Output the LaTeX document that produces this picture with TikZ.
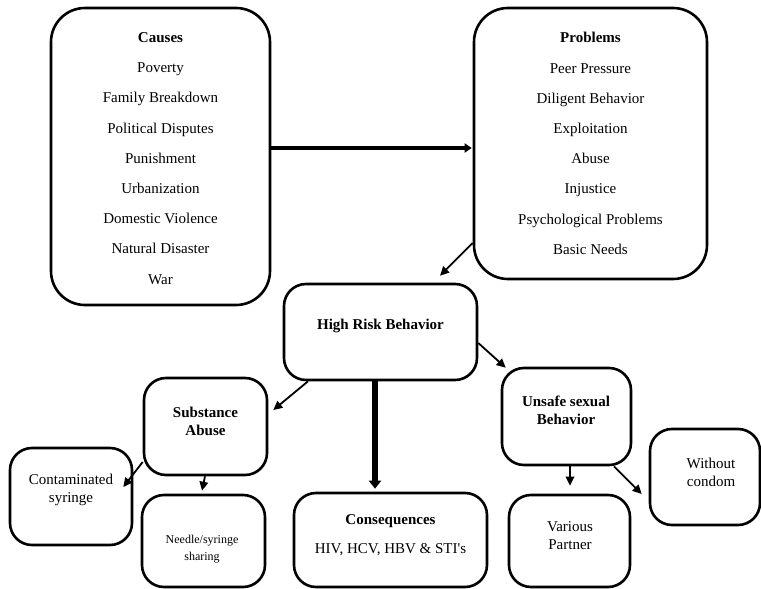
\documentclass[tikz,border=0pt]{standalone}
\usepackage{fontspec}
\setmainfont{Liberation Serif}
\newfontfamily\plainserif{Liberation Serif}
\usetikzlibrary{arrows.meta,calc}
\begin{document}
\begin{tikzpicture}[x=1pt,y=-1pt,
  box/.style={draw,line width=2.6pt,rounded corners=22pt,inner sep=0pt},
  bigbox/.style={box,rounded corners=34pt,align=center,font=\fontsize{15}{30.2}\selectfont},
  txt/.style={align=center,inner sep=0pt,font=\fontsize{15}{18}\selectfont},
  smalltxt/.style={align=center,inner sep=0pt,font=\fontsize{12}{17}\selectfont},
  arr/.style={line width=1.8pt,-{Triangle[length=9pt,width=8.5pt]}},
  thickarr/.style={line width=4.2pt,-{Triangle[length=7pt,width=9pt]}},
  vthickarr/.style={line width=5.5pt,-{Triangle[length=8pt,width=12pt]}}
]
\useasboundingbox (0,0) rectangle (761,589);

% big boxes
\node[bigbox,minimum width=219pt,minimum height=297pt] (causes) at (160.5,156.5)
  {\rule{0pt}{14pt}\textbf{Causes}\\Poverty\\Family Breakdown\\Political Disputes\\Punishment\\Urbanization\\Domestic Violence\\Natural Disaster\\War};
\node[bigbox,minimum width=233pt,minimum height=271pt] (problems) at (590.5,143.5)
  {\textbf{Problems}\\Peer Pressure\\Diligent Behavior\\Exploitation\\Abuse\\Injustice\\Psychological Problems\\Basic Needs};

% other boxes
\node[box,minimum width=193pt,minimum height=96pt] (hr) at (380.5,332) {};
\node[box,minimum width=123pt,minimum height=97pt] (subst) at (205.5,426.5) {};
\node[box,minimum width=122pt,minimum height=97pt] (contam) at (71,496.5) {};
\node[box,minimum width=123pt,minimum height=92pt] (needle) at (203.5,541) {};
\node[box,minimum width=193pt,minimum height=94pt] (conseq) at (390.5,540) {};
\node[box,minimum width=129pt,minimum height=97pt] (unsafe) at (566.5,416.5) {};
\node[box,minimum width=121pt,minimum height=92pt] (various) at (569.5,541) {};
\node[box,minimum width=110pt,minimum height=96pt] (without) at (705,477) {};

% texts
\node[txt] (hrt) at (380.5,326) {\textbf{High Risk Behavior}};
\node[txt] (substt) at (205.5,421) {\textbf{Substance}\\\textbf{Abuse}};
\node[txt] (contamt) at (71,490) {Contaminated\\syringe};
\node[smalltxt] (needlet) at (202,549.5) {Needle/syringe\\sharing};
\node[txt] (conseqt) at (390.5,535.5) {\textbf{Consequences}\\[11pt]{\plainserif HIV, HCV, HBV \& STI's}};
\node[txt] (unsafet) at (566,410.5) {\textbf{Unsafe sexual}\\\textbf{Behavior}};
\node[txt] (variioust) at (570,536) {Various\\Partner};
\node[txt] (withoutt) at (711,472) {Without\\condom};

% connectors
\draw[thickarr] (causes.east |- 0,148) -- ([xshift=-1pt]problems.west |- 0,148);
\draw[arr] (problems.west |- 0,243) -- ([yshift=7pt]hr.north -| 440,0);
\draw[arr] (hr.east |- 0,343) -- ([xshift=5pt,yshift=-1pt]unsafe.north west);
\draw[arr] (hr.south -| 308,0) -- ([xshift=5pt]subst.east |- 0,410);
\draw[vthickarr] (hr.south -| 375,0) -- ([yshift=3pt]conseq.north -| 375,0);
\draw[arr] (subst.west |- 0,462) -- ([xshift=-10pt]contam.east |- 0,487);
\draw[arr] (subst.south -| 205,0) -- ([yshift=3pt]needle.north -| 202,0);
\draw[arr] (unsafe.south -| 570,0) -- ([yshift=8pt]various.north -| 570,0);
\draw[arr] (unsafe.south -| 614,0) -- ([xshift=-7pt]without.west |- 0,494);
\end{tikzpicture}
\end{document}
